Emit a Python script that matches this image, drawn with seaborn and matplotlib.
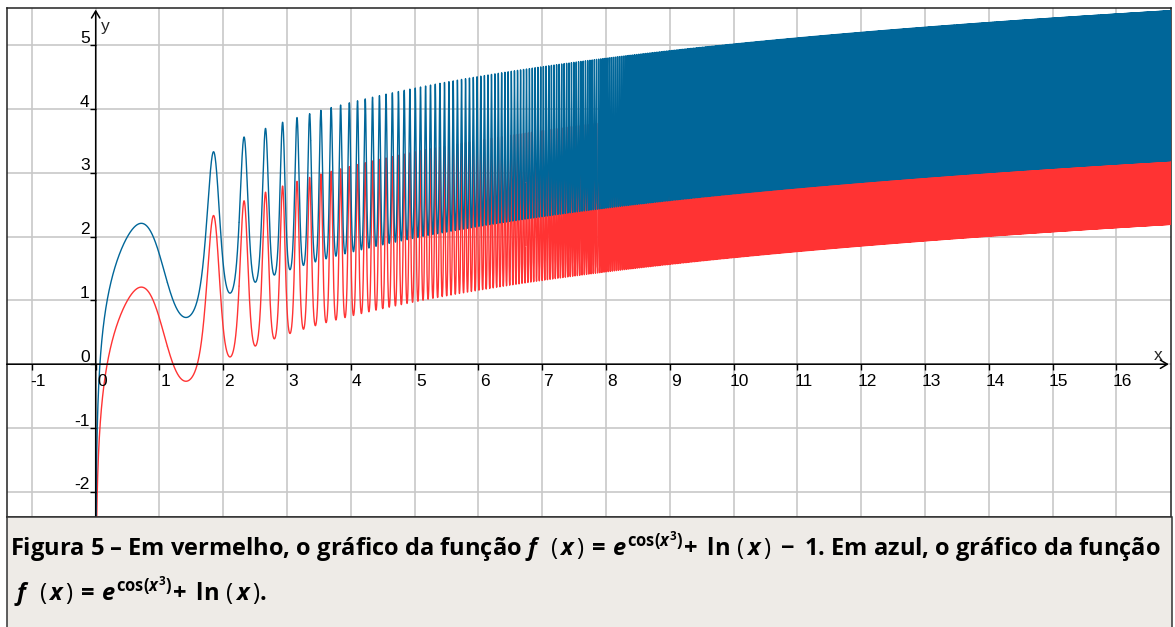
import numpy as np
import pandas as pd
import matplotlib
matplotlib.use("Agg")
import matplotlib.pyplot as plt
import matplotlib.transforms as mtransforms
from matplotlib.patches import Rectangle
import seaborn as sns

# Viewing window and grid of the graph
x_view = (-1.395, 16.85)
y_view = (-2.40, 5.58)
x_ticks = list(range(-1, 17))
y_ticks = list(range(-2, 6))

# f(x) = e^{cos(x^3)} + ln(x) + shift, one curve per shift
curve_names = ["vermelho", "azul"]
curve_shifts = [-1.0, 0.0]
curve_colors = ["#FF3333", "#006699"]
x_start = 0.0008
n_samples = 300000

formula_red = r"$f\ \ \mathsf{(}\,x\,\mathsf{)}\,=\,e^{\cos(x^3)}\!+\;\ln\,\mathsf{(}\,x\,\mathsf{)}\;-\;1$"
formula_blue = r"$f\ \ \mathsf{(}\,x\,\mathsf{)}\,=\,e^{\cos(x^3)}\!+\;\ln\,\mathsf{(}\,x\,\mathsf{)}$"
caption_line1 = "Figura 5 – Em vermelho, o gráfico da função " + formula_red + ". Em azul, o gráfico da função"
caption_line2 = " " + formula_blue + "."

sns.set_style("white")
plt.rcParams["agg.path.chunksize"] = 20000
plt.rcParams["font.family"] = ["Liberation Sans", "DejaVu Sans"]
plt.rcParams["mathtext.fontset"] = "custom"
plt.rcParams["mathtext.rm"] = "Open Sans:bold"
plt.rcParams["mathtext.bf"] = "Open Sans:bold"
plt.rcParams["mathtext.it"] = "Open Sans:italic:bold"
plt.rcParams["mathtext.sf"] = "Open Sans"

W, H = 1175, 627
fig = plt.figure(figsize=(W / 100, H / 100), dpi=100)
ax = fig.add_axes([6.7 / W, 1 - 517.3 / H, (1170.7 - 6.7) / W, (517.3 - 8.3) / H])

# sample the functions
xs = np.linspace(x_start, x_view[1], n_samples)
frames = []
for name, shift in zip(curve_names, curve_shifts):
    ys = np.exp(np.cos(xs ** 3)) + np.log(xs) + shift
    frames.append(pd.DataFrame({"x": xs, "y": ys, "curva": name}))
df = pd.concat(frames, ignore_index=True)

for name, color in zip(curve_names, curve_colors):
    sub = df[df["curva"] == name]
    sns.lineplot(data=sub, x="x", y="y", ax=ax, color=color, lw=1.0,
                 estimator=None, sort=False, errorbar=None, zorder=3)

ax.set_xlim(*x_view)
ax.set_ylim(*y_view)
ax.set_xticks(x_ticks)
ax.set_yticks(y_ticks)
ax.set_xticklabels([])
ax.set_yticklabels([])
ax.tick_params(length=0)
ax.set_xlabel("")
ax.set_ylabel("")
ax.grid(True, color="#c8c8c8", lw=1.2, zorder=0)
for s in ax.spines.values():
    s.set_color("#222222")
    s.set_linewidth(1.1)

# axes with arrows
arrow_kw = dict(arrowstyle="->,head_length=0.5,head_width=0.3", color="black",
                lw=1.1, shrinkA=0, shrinkB=0)
ax.annotate("", xy=(x_view[1] - 0.03, 0), xytext=(x_view[0], 0),
            arrowprops=arrow_kw, zorder=5, annotation_clip=False)
ax.annotate("", xy=(0, y_view[1] - 0.02), xytext=(0, y_view[0]),
            arrowprops=arrow_kw, zorder=5, annotation_clip=False)

# small tick marks on the axes
ax.plot(x_ticks, [0] * len(x_ticks), ls="none", marker=3, ms=4,
        mew=1.0, color="black", zorder=5)
ax.plot([0] * len(y_ticks), y_ticks, ls="none", marker=0, ms=4,
        mew=1.0, color="black", zorder=5)

# tick labels next to the axes
xlab_tr = ax.transData + mtransforms.ScaledTranslation(6 / 100, -17 / 100, fig.dpi_scale_trans)
for v in x_ticks:
    ax.text(v, 0, f"{v}", transform=xlab_tr, ha="center", va="center",
            fontsize=12.5, color="black", zorder=6)
ylab_tr = ax.transData + mtransforms.ScaledTranslation(-6 / 100, 7 / 100, fig.dpi_scale_trans)
for v in y_ticks:
    ax.text(0, v, f"{v}", transform=ylab_tr, ha="right", va="center",
            fontsize=12.5, color="black", zorder=6)

ax.text(0, y_view[1], "y", transform=ax.transData + mtransforms.ScaledTranslation(5 / 100, -18 / 100, fig.dpi_scale_trans),
        ha="left", va="center", fontsize=12.5)
ax.text(x_view[1], 0, "x", transform=ax.transData + mtransforms.ScaledTranslation(-13 / 100, 9 / 100, fig.dpi_scale_trans),
        ha="center", va="center", fontsize=12.5)

# caption box
fig.patches.append(Rectangle((6.7 / W, -0.01), (1171.7 - 6.7) / W, (H - 517.3) / H + 0.01,
                             transform=fig.transFigure, facecolor="#EEEBE7",
                             edgecolor="#333333", lw=1.1, zorder=0))
cap_kw = dict(fontsize=17, fontweight="bold", family="Open Sans", color="black",
              ha="left", va="baseline")
fig.text(10 / W, 1 - 556 / H, caption_line1, **cap_kw)
fig.text(10 / W, 1 - 601 / H, caption_line2, **cap_kw)

fig.savefig("out.png", dpi=100, facecolor="white")
